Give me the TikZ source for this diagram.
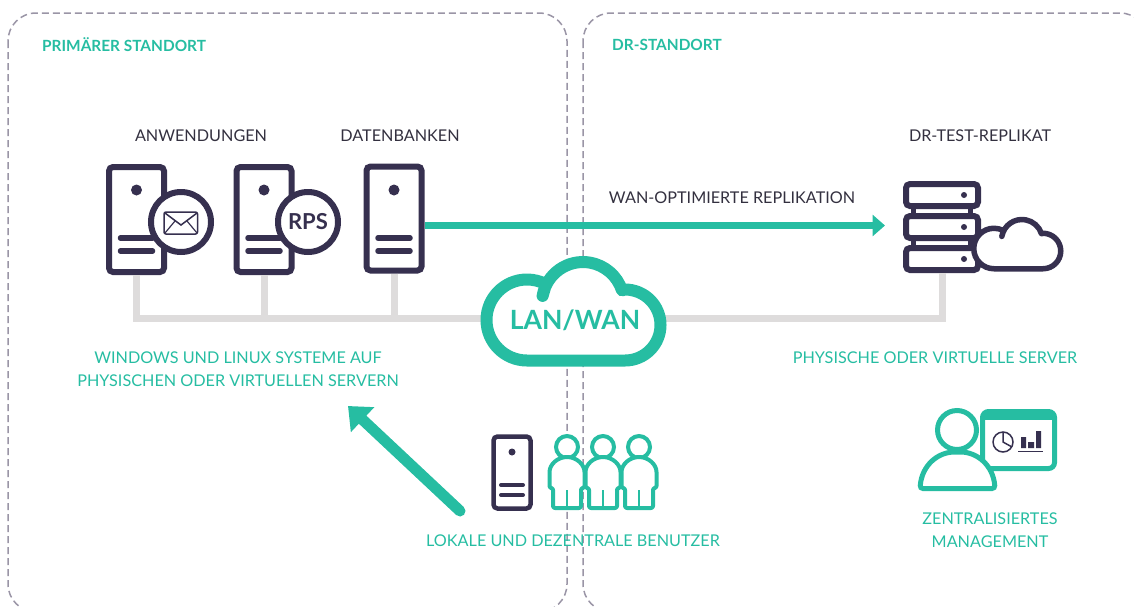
\documentclass[tikz,border=0pt]{standalone}
\usepackage{fontspec}
\setmainfont{Lato}
\usetikzlibrary{positioning, arrows.meta}
\definecolor{tealC}{HTML}{26BDA2}
\definecolor{navyC}{HTML}{36304F}
\definecolor{busC}{HTML}{DEDCDC}
\definecolor{dashC}{HTML}{9A95A6}
\definecolor{textC}{HTML}{33303F}
\tikzset{Panel/.style={%
    draw=dashC,%
    line width=1.5pt,%
    dash pattern=on 7pt off 4pt,%
    rounded corners=28pt,%
}}
\tikzset{Server/.style={%
    shape=rectangle,%
    draw=navyC,%
    fill=white,%
    line width=6pt,%
    rounded corners=4pt,%
    minimum width=55pt,%
    minimum height=105pt,%
    inner sep=0pt,%
}}
\tikzset{Badge/.style={%
    shape=circle,%
    draw=navyC,%
    fill=white,%
    line width=6pt,%
    minimum size=60pt,%
    inner sep=0pt,%
    text=navyC,%
    font=\bfseries\fontsize{22}{24}\selectfont,%
}}
\tikzset{Slot/.style={%
    shape=rectangle,%
    draw=navyC,%
    fill=white,%
    line width=6pt,%
    rounded corners=4pt,%
    minimum width=72pt,%
    minimum height=22pt,%
    inner sep=0pt,%
}}
\tikzset{Label/.style={%
    text=textC,%
    inner sep=0pt,%
    align=center,%
    font=\fontsize{16.2}{23}\selectfont,%
}}
\tikzset{TealLabel/.style={%
    Label,%
    text=tealC,%
}}
\tikzset{SiteLabel/.style={%
    TealLabel,%
    anchor=west,%
    font=\bfseries\fontsize{15.4}{18}\selectfont,%
}}
\tikzset{BusEdge/.style={%
    draw=busC,%
    line width=7pt,%
}}
\tikzset{WanEdge/.style={%
    draw=tealC,%
    line width=7.5pt,%
    -{Triangle[length=12.5pt,width=21pt]},%
}}
\tikzset{UserEdge/.style={%
    draw=tealC,%
    line width=11pt,%
    line cap=round,%
    -{Triangle[length=20pt,width=33pt]},%
}}
% cloud outline, origin at the center of the middle lobe
\tikzset{pics/cloudIcon/.style={code={%
    \draw[fill=white, line join=round]
        (-56,-57.5) arc[start angle=270,end angle=62,radius=40.5]
        -- (-40.4,7.1) arc[start angle=170,end angle=18,radius=41]
        -- (42,13.5) arc[start angle=90,end angle=-90,radius=35.5]
        -- cycle;
}}}
\tikzset{pics/personIcon/.style={code={%
    \draw[draw=tealC, fill=white, line width=4pt] (0,0) circle[radius=11];
    \draw[draw=tealC, fill=white, line width=4pt, line join=round, rounded corners=2pt]
        (-14,-61) -- (-14,-41) -- (-17.5,-41) -- (-17.5,-27)
        arc[start angle=180,end angle=0,x radius=17.5,y radius=17]
        -- (17.5,-41) -- (14,-41) -- (14,-61) -- cycle;
    \draw[draw=tealC, line width=2pt] (0,-43) -- (0,-61);
}}}
\begin{document}
\begin{tikzpicture}[x=1pt, y=1pt]
    \useasboundingbox (0,0) rectangle (1134,-606);
    \begin{scope}
    \clip (0,0) rectangle (1134,-606);
    \draw[Panel] (8,-13) rectangle (567,-612);
    \draw[Panel] (583,-13) rectangle (1148,-612);
    \end{scope}

    \node[SiteLabel] (sitePrimary) at (42,-45) {PRIMÄRER STANDORT};
    \node[SiteLabel] (siteDr) at (612,-45) {DR-STANDORT};

    \node[Label] (lblApps) at (201,-136) {ANWENDUNGEN};
    \node[Label] (lblDb) at (400,-136) {DATENBANKEN};
    \node[Label] (lblReplica) at (980,-136) {DR-TEST-REPLIKAT};
    \node[Label] (lblWan) at (732,-198) {WAN-OPTIMIERTE REPLIKATION};

    \node[Server] (srvMail) at (136.5,-219.5) {};
    \node[Server] (srvRps) at (264,-219.5) {};
    \node[Server, minimum height=104pt] (srvDb) at (394,-218.5) {};
    \node[Server, line width=4.5pt, minimum width=37pt, minimum height=72pt] (srvUser) at (512,-472.5) {};

    % dots and slots of the four servers
    \foreach \s/\dy/\a/\b/\w in {srvMail/29.5/18.5/31.5/5.5, srvRps/29.5/18.5/31.5/5.5, srvDb/28.5/19.5/32.5/5.5} {
        \fill[navyC] ([yshift=\dy pt]\s.center) circle[radius=5.5];
        \draw[navyC, line width=\w pt, line cap=round] ([xshift=-16pt,yshift=-\a pt]\s.center) -- ([xshift=16pt,yshift=-\a pt]\s.center);
        \draw[navyC, line width=\w pt, line cap=round] ([xshift=-16pt,yshift=-\b pt]\s.center) -- ([xshift=16pt,yshift=-\b pt]\s.center);
    }
    \fill[navyC] ([yshift=20.5pt]srvUser.center) circle[radius=3.5];
    \draw[navyC, line width=4pt, line cap=round] ([xshift=-11pt,yshift=-12.5pt]srvUser.center) -- ([xshift=11pt,yshift=-12.5pt]srvUser.center);
    \draw[navyC, line width=4pt, line cap=round] ([xshift=-11pt,yshift=-22.5pt]srvUser.center) -- ([xshift=11pt,yshift=-22.5pt]srvUser.center);

    \node[Badge] (badgeMail) at (181,-222) {};
    \node[Badge] (badgeRps) at (308,-222) {RPS};
    \draw[navyC, line width=1.5pt, rounded corners=2pt] (164,-212) rectangle (197.5,-234);
    \draw[navyC, line width=1.5pt] (165,-213) -- (181,-225) -- (197,-213);
    \draw[navyC, line width=1.2pt] (165,-233) -- (175,-221) (197,-233) -- (187,-221);

    % replica stack with its cloud
    \node[Slot] (slotA) at (942,-195) {};
    \node[Slot] (slotB) at (942,-227) {};
    \node[Slot] (slotC) at (942,-259) {};
    \foreach \s in {slotA, slotB, slotC} {
        \fill[navyC] ([xshift=22pt]\s.center) circle[radius=3];
    }
    \draw[navyC, line width=5pt] ([xshift=-29pt]slotA.south) -- ([xshift=-29pt]slotB.north);
    \draw[navyC, line width=5pt] ([xshift=28pt]slotA.south) -- ([xshift=28pt]slotB.north);
    \draw[navyC, line width=5pt] ([xshift=-29pt]slotB.south) -- ([xshift=-29pt]slotC.north);
    \draw[navyC, line width=5pt] ([xshift=28pt]slotB.south) -- ([xshift=28pt]slotC.north);
    \pic[draw=navyC, line width=5.5pt, scale=.5] at (1022,-240) {cloudIcon};

    % network
    \node[inner sep=0pt] (lanPoint) at (574,-318.5) {};
    \draw[BusEdge] (srvMail.south) |- (lanPoint);
    \draw[BusEdge] (srvRps.south) -- (srvRps.south |- lanPoint);
    \draw[BusEdge] (srvDb.south) -- (srvDb.south |- lanPoint);
    \draw[BusEdge] (slotC.south) |- (lanPoint);
    \pic[draw=tealC, line width=12pt] at (583,-303) {cloudIcon};
    \node[text=tealC, inner sep=0pt, font=\bfseries\fontsize{26.5}{30}\selectfont] (lanwan) at (575,-320) {LAN/WAN};

    \coordinate (wanTip) at (885,-225.5);
    \draw[WanEdge] (srvDb.east |- wanTip) -- (wanTip);

    \node[TealLabel] (lblSystems) at (238,-369.5) {WINDOWS UND LINUX SYSTEME AUF\\PHYSISCHEN ODER VIRTUELLEN SERVERN};
    \node[TealLabel] (lblServers) at (935,-358) {PHYSISCHE ODER VIRTUELLE SERVER};

    \coordinate (userStart) at (460,-511);
    \coordinate (userTip) at (348,-406);
    \draw[UserEdge] (userStart) -- (userTip);

    \pic at (639,-447) {personIcon};
    \pic at (603,-447) {personIcon};
    \pic at (567,-447) {personIcon};
    \node[TealLabel] (lblUsers) at (573,-541) {LOKALE UND DEZENTRALE BENUTZER};

    % management screen and person
    \node[draw=tealC, fill=white, line width=5pt, rounded corners=6pt, minimum width=72pt, minimum height=57pt, inner sep=0pt] (screen) at (1018.5,-440) {};
    \fill[tealC] ([xshift=2pt,yshift=-2.5pt]screen.north west) rectangle ([xshift=-2pt,yshift=-11pt]screen.north east);
    \draw[navyC, line width=1.5pt] (1003,-442) circle[radius=10];
    \draw[navyC, line width=1.5pt] (1003,-432) -- (1003,-442) -- (1012,-447);
    \fill[navyC] (1021,-448) rectangle (1026,-437) (1028,-448) rectangle (1034,-442) (1036,-448) rectangle (1041,-431);
    \draw[navyC, line width=1pt] (1018,-451) -- (1043,-451);
    \draw[draw=tealC, fill=white, line width=5pt] (957,-430) circle[radius=19.5];
    \draw[draw=tealC, fill=white, line width=5pt, rounded corners=3pt] (920,-488.5) .. controls (922,-465) and (938,-452) .. (957.5,-452) .. controls (977,-452) and (993,-465) .. (995,-488.5) -- cycle;
    \node[TealLabel] (lblManage) at (990,-530) {ZENTRALISIERTES\\MANAGEMENT};
\end{tikzpicture}
\end{document}
